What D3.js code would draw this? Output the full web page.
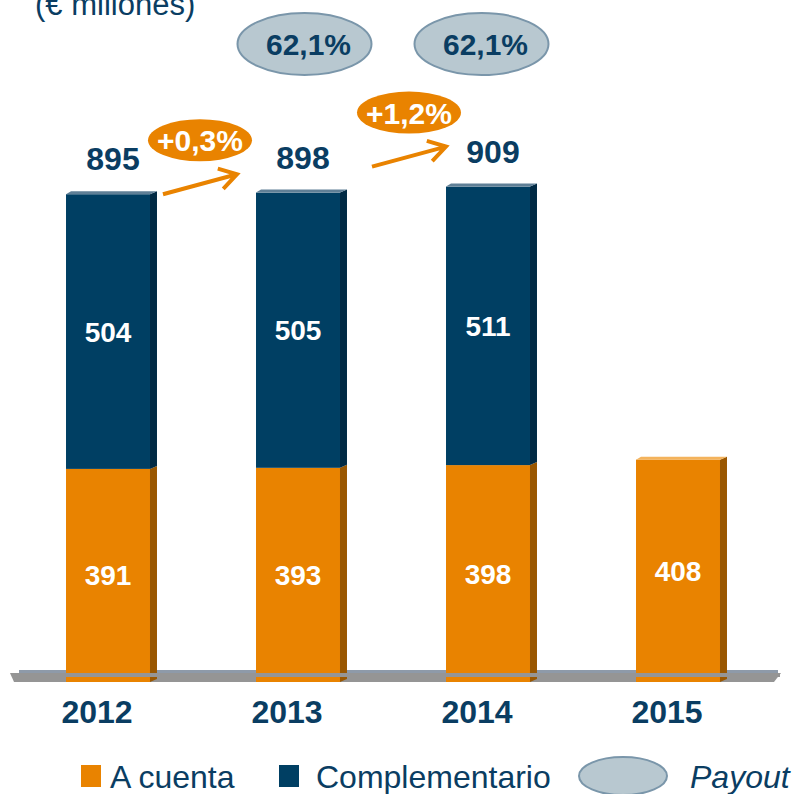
<!DOCTYPE html>
<html>
<head>
<meta charset="utf-8">
<script src="https://cdn.jsdelivr.net/npm/d3@7"></script>
<style>
	html, body { margin: 0; padding: 0; background: #fff; }
	svg { display: block; font-family: 'Liberation Sans', Arial, sans-serif; }
</style>
</head>
<body>
<svg id="chart" width="792" height="794"></svg>
<script>
const years = [ '2012', '2013', '2014', '2015' ];
const aCuenta = [ 391, 393, 398, 408 ];
const complementario = [ 504, 505, 511, null ];
const totals = [ 895, 898, 909, null ];
const payoutYears = [ '2013', '2014' ];
const payout = [ '62,1%', '62,1%' ];
const growth = [ '+0,3%', '+1,2%' ];

const ORANGE = '#e98300', ORANGE_SIDE = '#9a5700', ORANGE_TOP = '#f4b35c';
const BLUE = '#003f63', BLUE_SIDE = '#012a44', BLUE_TOP = '#5f7f96';
const TEXT = '#0a3d62';

const svg = d3.select('svg#chart');

const x = d3.scaleBand(years, [ 13, 773 ])
	.paddingInner(0.558)
	.paddingOuter(0.279);
const bw = x.bandwidth();
const y = d3.scaleLinear([ 0, 1000 ], [ 682, 682 - 545 ]);
const depth = 7, lift = 3;

// title, cut off at the top like the slide
svg.append('text')
	.attr('x', 35).attr('y', 15)
	.attr('font-size', 31).attr('fill', TEXT)
	.text('(€ millones)');

// floor
svg.append('rect')
	.attr('x', 19).attr('y', 670).attr('width', 759).attr('height', 3)
	.attr('fill', '#8e9aa9');
svg.append('path')
	.attr('d', 'M10,673 L781,673 L774,682 L14,682 Z')
	.attr('fill', '#959595');

// stacked segments
const segs = [];
years.forEach((yr, i) => {
	segs.push({ yr, v0: 0, v1: aCuenta[i], value: aCuenta[i], front: ORANGE, side: ORANGE_SIDE, top: ORANGE_TOP, isTop: complementario[i] == null });
	if (complementario[i] != null)
		segs.push({ yr, v0: aCuenta[i], v1: aCuenta[i] + complementario[i], value: complementario[i], front: BLUE, side: BLUE_SIDE, top: BLUE_TOP, isTop: true });
});

const g = svg.append('g').attr('class', 'bars');
const seg = g.selectAll('g.seg').data(segs).join('g').attr('class', 'seg');

seg.append('rect')
	.attr('x', d => x(d.yr))
	.attr('y', d => y(d.v1))
	.attr('width', bw)
	.attr('height', d => y(d.v0) - y(d.v1))
	.attr('fill', d => d.front);

seg.append('path')
	.attr('d', d => {
		const x1 = x(d.yr) + bw;
		const t = y(d.v1), b = y(d.v0);
		return `M${x1},${t} L${x1 + depth},${t - lift} L${x1 + depth},${b - lift} L${x1},${b} Z`;
	})
	.attr('fill', d => d.side);

seg.filter(d => d.isTop).append('path')
	.attr('d', d => {
		const x0 = x(d.yr), t = y(d.v1);
		return `M${x0},${t} L${x0 + depth - 2},${t - lift} L${x0 + bw + depth},${t - lift} L${x0 + bw},${t} Z`;
	})
	.attr('fill', d => d.top);

seg.append('text')
	.attr('x', d => x(d.yr) + bw / 2)
	.attr('y', d => (y(d.v0) + y(d.v1)) / 2 + 10)
	.attr('text-anchor', 'middle')
	.attr('font-size', 28).attr('font-weight', 'bold').attr('fill', '#fff')
	.text(d => d.value);

// front stripe of the floor over the bars
svg.append('rect')
	.attr('x', 12).attr('y', 673).attr('width', 768).attr('height', 4)
	.attr('fill', '#959595');

// totals
svg.append('g').selectAll('text')
	.data(totals.map((t, i) => ({ t, yr: years[i] })).filter(d => d.t != null))
	.join('text')
	.attr('x', d => x(d.yr) + bw / 2 + 5)
	.attr('y', d => y(d.t) - 24)
	.attr('text-anchor', 'middle')
	.attr('font-size', 32).attr('font-weight', 'bold').attr('fill', TEXT)
	.text(d => d.t);

// year labels
svg.append('g').selectAll('text')
	.data(years)
	.join('text')
	.attr('x', d => x(d) + bw / 2 - 11)
	.attr('y', 723)
	.attr('text-anchor', 'middle')
	.attr('font-size', 32).attr('font-weight', 'bold').attr('fill', TEXT)
	.text(d => d);

// payout ellipses, pulled toward each other over the two bars
const payMid = d3.mean(payoutYears, d => x(d) + bw / 2);
const pay = svg.append('g').selectAll('g')
	.data(payout.map((p, i) => ({ p, yr: payoutYears[i], i })))
	.join('g')
	.attr('transform', d => `translate(${payMid + (d.i - 0.5) * 177},44)`);
pay.append('ellipse')
	.attr('rx', 67).attr('ry', 31)
	.attr('fill', '#b8c8d0').attr('stroke', '#7a96aa').attr('stroke-width', 2);
pay.append('text')
	.attr('x', 4).attr('y', 11).attr('text-anchor', 'middle')
	.attr('font-size', 30).attr('font-weight', 'bold').attr('fill', TEXT)
	.text(d => d.p);

// growth arrows + labels
const arrows = growth.map((label, i) => {
	const x0 = x(years[i]) + bw + 13 + 19 * i;
	const y0 = y(totals[i]) - 26 * i;
	return { label, x0, y0, x1: x0 + 74, y1: y0 - 20 };
});
const arr = svg.append('g').selectAll('g').data(arrows).join('g');
arr.append('path')
	.attr('d', d => {
		const a = Math.atan2(d.y1 - d.y0, d.x1 - d.x0);
		const L = 20, s = 0.55;
		const p1 = [ d.x1 - L * Math.cos(a - s), d.y1 - L * Math.sin(a - s) ];
		const p2 = [ d.x1 - L * Math.cos(a + s), d.y1 - L * Math.sin(a + s) ];
		return `M${d.x0},${d.y0} L${d.x1},${d.y1} M${p1} L${d.x1},${d.y1} L${p2}`;
	})
	.attr('fill', 'none').attr('stroke', ORANGE).attr('stroke-width', 4)
	.attr('stroke-linecap', 'butt').attr('stroke-linejoin', 'miter');
arr.append('ellipse')
	.attr('cx', d => (d.x0 + d.x1) / 2)
	.attr('cy', d => (d.y0 + d.y1) / 2 - 44)
	.attr('rx', 52).attr('ry', 21)
	.attr('fill', ORANGE);
arr.append('text')
	.attr('x', d => (d.x0 + d.x1) / 2)
	.attr('y', d => (d.y0 + d.y1) / 2 - 44 + 11)
	.attr('text-anchor', 'middle')
	.attr('font-size', 30).attr('font-weight', 'bold').attr('fill', '#fff')
	.text(d => d.label);

// legend
const lg = svg.append('g').attr('font-size', 32).attr('fill', TEXT);
lg.append('rect').attr('x', 81).attr('y', 765).attr('width', 20).attr('height', 22).attr('fill', ORANGE);
lg.append('text').attr('x', 110).attr('y', 788).text('A cuenta');
lg.append('rect').attr('x', 279).attr('y', 765).attr('width', 20).attr('height', 22).attr('fill', BLUE);
lg.append('text').attr('x', 316).attr('y', 788).text('Complementario');
lg.append('ellipse').attr('cx', 623).attr('cy', 776).attr('rx', 44).attr('ry', 19)
	.attr('fill', '#b8c8d0').attr('stroke', '#7a96aa').attr('stroke-width', 2);
lg.append('text').attr('x', 690).attr('y', 788).attr('font-style', 'italic').text('Payout');
</script>
</body>
</html>
